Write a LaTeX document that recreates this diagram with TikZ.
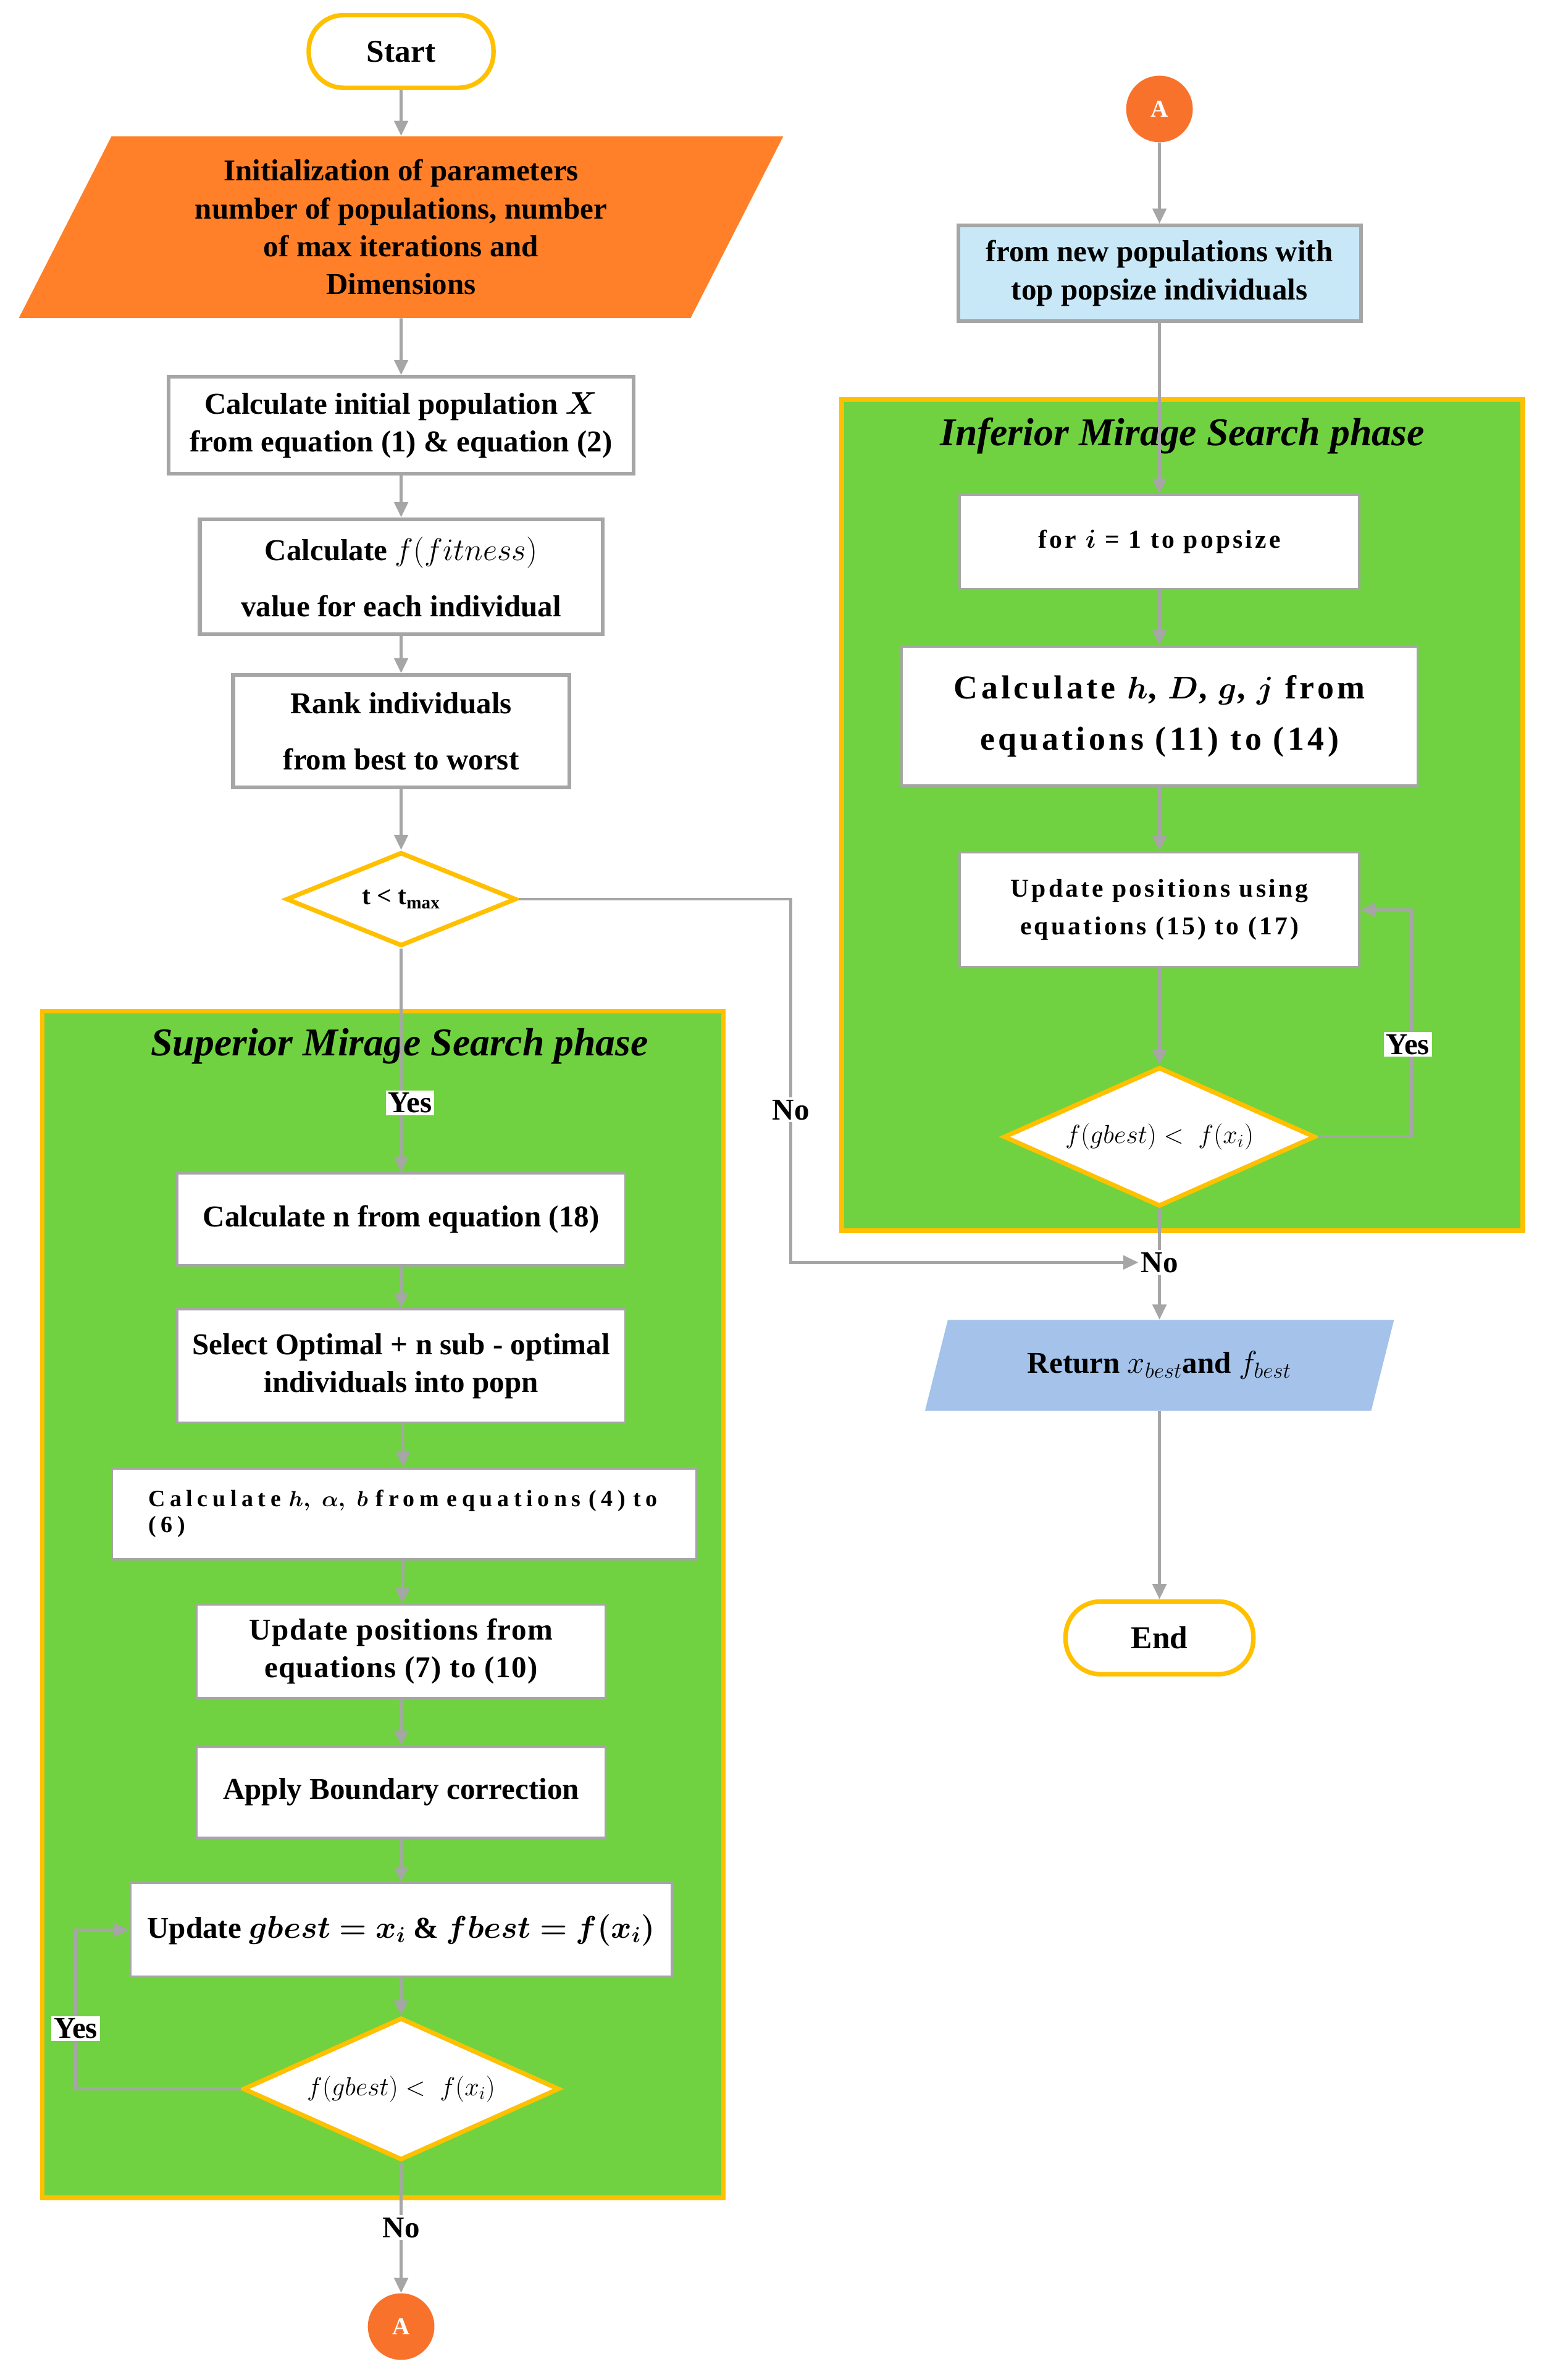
\documentclass[tikz,border=0pt]{standalone}
\usepackage{amsmath}
\usepackage{bm}
\usepackage{fontspec}
\setmainfont{Liberation Serif}
\newfontfamily\slightfont[LetterSpace=3]{Liberation Serif}
\newfontfamily\widefont[LetterSpace=10]{Liberation Serif}
\newfontfamily\widerfont[LetterSpace=20]{Liberation Serif}
\usetikzlibrary{shapes.geometric,arrows.meta,positioning}
\definecolor{flowgray}{RGB}{166,166,166}
\definecolor{termyellow}{RGB}{255,192,0}
\definecolor{phasegreen}{RGB}{112,210,64}
\definecolor{initorange}{RGB}{255,128,40}
\definecolor{connorange}{RGB}{248,114,44}
\definecolor{popblue}{RGB}{200,232,248}
\definecolor{retblue}{RGB}{164,194,234}
\tikzset{
  term/.style={ draw=termyellow, line width=3pt, fill=white, rounded corners=23pt, minimum width=122, minimum height=48, inner sep=0pt, font=\fontsize{21}{25}\selectfont\bfseries }
}
\tikzset{
  procbox/.style={ draw=flowgray, line width=2.5pt, fill=white, align=center, inner sep=0pt, font=\fontsize{20}{25}\selectfont\bfseries }
}
\tikzset{
  inbox/.style={ procbox, line width=1.5pt }
}
\tikzset{
  decide/.style={ draw=termyellow, line width=3pt, fill=white, diamond, aspect=2.2, inner sep=0pt, font=\fontsize{17}{20}\selectfont }
}
\tikzset{
  inputbox/.style={ trapezium, trapezium stretches=true, align=center, inner sep=0pt, font=\fontsize{20}{25}\selectfont\bfseries }
}
\tikzset{
  phasebox/.style={ draw=termyellow, line width=3pt, fill=phasegreen }
}
\tikzset{
  phasetitle/.style={ inner sep=0pt, font=\fontsize{26}{30}\selectfont\bfseries\itshape }
}
\tikzset{
  conn/.style={ circle, fill=connorange, minimum size=44, inner sep=0pt, text=white, font=\fontsize{16}{18}\selectfont\bfseries }
}
\tikzset{
  lbl/.style={ fill=white, inner sep=1.5pt, font=\fontsize{20}{24}\selectfont\bfseries }
}
\tikzset{
  flow/.style={ draw=flowgray, line width=2pt, -{Triangle[length=10pt,width=9pt]} }
}
\tikzset{
  flowline/.style={ draw=flowgray, line width=2pt }
}
\begin{document}
\begin{tikzpicture}[x=1pt,y=-1pt]
      \useasboundingbox (0,0) rectangle (1024,1572.3);

      % phase frames
      \node[phasebox, minimum width=450, minimum height=784] (supframe) at (253,1060) {};
      \node[phasetitle] (suptitle) at (264,691) {Superior Mirage Search phase};
      \node[phasebox, minimum width=450, minimum height=549] (infframe) at (781,538.5) {};
      \node[phasetitle] (inftitle) at (781,288) {Inferior Mirage Search phase};

      % left column
      \node[term] (start) at (265,34) {Start};
      \node[inputbox, fill=initorange, minimum width=506, minimum height=120, trapezium left angle=64, trapezium right angle=116] (init) at (265,150) {Initialization of parameters\\number of populations, number\\of max iterations and\\Dimensions};
      \node[procbox, minimum width=307, minimum height=64] (initpop) at (265,281) {Calculate initial population $\bm{X}$\\from equation (1) \& equation (2)};
      \node[procbox, minimum width=266, minimum height=76] (fitness) at (265,381) {Calculate $f(fitness)$\\[12pt]value for each individual};
      \node[procbox, minimum width=222, minimum height=74] (rank) at (265,483) {Rank individuals\\[12pt]from best to worst};
      \node[decide, minimum width=152, minimum height=62] (tdec) at (265,594) {\bfseries t < t\textsubscript{max}};

      \node[inbox, minimum width=296, minimum height=61] (calcn) at (265,805.5) {Calculate n from equation (18)};
      \node[inbox, minimum width=296, minimum height=75] (select) at (265,902.5) {Select Optimal + n sub - optimal\\individuals into popn};
      \node[inbox, minimum width=386, minimum height=60, text width=338, align=left, font=\widerfont\fontsize{15.5}{17}\selectfont\bfseries] (calcha) at (267,1000) {Calculate $\bm{h,\ \alpha,\ b}$ from equations (4) to\\(6)};
      \node[inbox, minimum width=270, minimum height=62, font=\slightfont\fontsize{20}{25}\selectfont\bfseries] (updpos) at (265,1091) {Update positions from\\equations (7) to (10)};
      \node[inbox, minimum width=270, minimum height=60] (bound) at (265,1184) {Apply Boundary correction};
      \node[inbox, minimum width=358, minimum height=62] (gbest) at (265,1275) {Update $\bm{gbest=x_{i}}$ \& $\bm{fbest=f(x_{i})}$};
      \node[decide, minimum width=209, minimum height=94] (sdec) at (265,1380) {$f(gbest) <\; f(x_{i})$};
      \node[conn] (asouth) at (265,1537) {A};

      % right column
      \node[conn] (atop) at (766,72) {A};
      \node[procbox, fill=popblue, minimum width=266, minimum height=63] (newpop) at (766,180.5) {from new populations with\\top popsize individuals};
      \node[inbox, minimum width=264, minimum height=62, font=\widefont\fontsize{17}{21}\selectfont\bfseries] (fori) at (766,358) {for $\bm{i}$ = 1 to popsize};
      \node[inbox, minimum width=341, minimum height=92, font=\widefont\fontsize{22}{34}\selectfont\bfseries] (calchd) at (766,473) {Calculate $\bm{h}$, $\bm{D}$, $\bm{g}$, $\bm{j}$ from\\equations (11) to (14)};
      \node[inbox, minimum width=264, minimum height=76, font=\widefont\fontsize{17}{25}\selectfont\bfseries] (iupd) at (766,601) {Update positions using\\equations (15) to (17)};
      \node[decide, minimum width=206, minimum height=92] (idec) at (766,751) {$f(gbest) <\; f(x_{i})$};
      \node[lbl] (noR) at (766,834) {No};
      \node[inputbox, fill=retblue, minimum width=310, minimum height=60, trapezium left angle=63, trapezium right angle=117] (ret) at (766,902) {Return $x_{best}$and $f_{best}$};
      \node[term, minimum width=124] (endnode) at (766,1082) {End};

      % connectors
      \draw[flow] (start) -- (init);
      \draw[flow] (init) -- (initpop);
      \draw[flow] (initpop) -- (fitness);
      \draw[flow] (fitness) -- (rank);
      \draw[flow] (rank) -- (tdec);
      \draw[flow] (tdec) -- node[lbl, pos=0.69, xshift=6pt] (yes1) {Yes} (calcn);
      \draw[flow] (tdec.east) -- ++(180,0) |- node[lbl, pos=0.29] (no1) {No} (noR.west);
      \draw[flow] (calcn) -- (select);
      \draw[flow] (select) -- (calcha);
      \draw[flow] (calcha) -- (updpos);
      \draw[flow] (updpos) -- (bound);
      \draw[flow] (bound) -- (gbest);
      \draw[flow] (gbest) -- (sdec);
      \draw[flow] (sdec.west) -- ++(-109,0) |- (gbest.west);
      \draw[flow] (sdec) -- node[lbl, pos=0.5] (no2) {No} (asouth);

      \draw[flow] (atop) -- (newpop);
      \draw[flow] (newpop) -- (fori);
      \draw[flow] (fori) -- (calchd);
      \draw[flow] (calchd) -- (iupd);
      \draw[flow] (iupd) -- (idec);
      \draw[flow] (idec.east) -- ++(62,0) |- (iupd.east);
      \draw[flowline] (idec) -- (noR);
      \draw[flow] (noR) -- (ret);
      \draw[flow] (ret) -- (endnode);

      \node[lbl] (yes2) at (50,1340) {Yes};
      \node[lbl] (yes3) at (930,690) {Yes};
    \end{tikzpicture}
\end{document}
